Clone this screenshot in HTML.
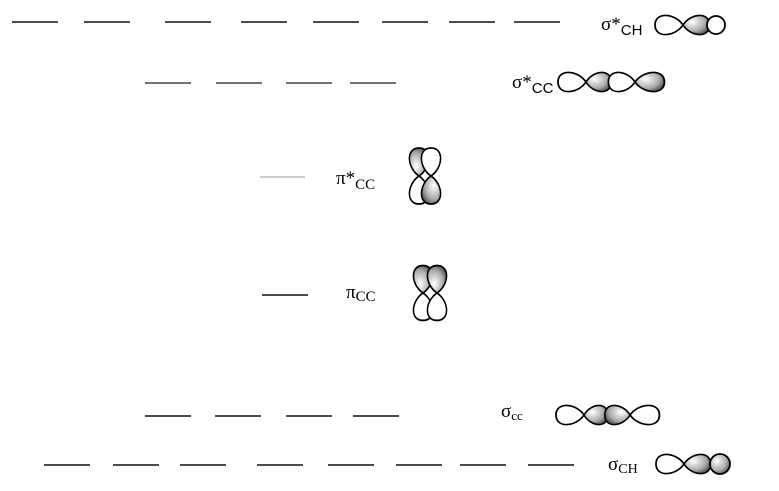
<!DOCTYPE html>
<html><head><meta charset="utf-8"><style>
html,body{margin:0;padding:0;background:#fff;width:779px;height:491px;overflow:hidden}
svg{display:block}
.t{font-family:"Liberation Serif",serif;font-size:19px}
.s{font-family:"Liberation Sans",sans-serif;font-size:15px}
</style></head><body>
<svg width="779" height="491" viewBox="0 0 779 491" xmlns="http://www.w3.org/2000/svg">
<defs>
<radialGradient id="g" cx="0.35" cy="0.35" r="0.8">
<stop offset="0" stop-color="#fff"/><stop offset="0.6" stop-color="#aaa"/><stop offset="1" stop-color="#333"/>
</radialGradient>
<path id="lobe" d="M0,0 C8,-14 28,-16 28,0 C28,16 8,14 0,0Z"/>
</defs>
<g stroke="#111" stroke-width="1.6">
<line x1="12" y1="22" x2="58" y2="22"/><line x1="84" y1="22" x2="130" y2="22"/><line x1="165" y1="22" x2="211" y2="22"/><line x1="241" y1="22" x2="287" y2="22"/><line x1="313" y1="22" x2="359" y2="22"/><line x1="382" y1="22" x2="428" y2="22"/><line x1="449" y1="22" x2="495" y2="22"/><line x1="514" y1="22" x2="560" y2="22"/>
</g>
<g stroke="#444" stroke-width="1.6">
<line x1="145" y1="83" x2="191" y2="83"/><line x1="216" y1="83" x2="262" y2="83"/><line x1="286" y1="83" x2="332" y2="83"/><line x1="350" y1="83" x2="396" y2="83"/>
</g>
<line x1="260" y1="177" x2="305" y2="177" stroke="#999" stroke-width="1"/>
<line x1="262" y1="295" x2="308" y2="295" stroke="#111" stroke-width="1.6"/>
<g stroke="#111" stroke-width="1.6">
<line x1="145" y1="416" x2="191" y2="416"/><line x1="215" y1="416" x2="261" y2="416"/><line x1="286" y1="416" x2="332" y2="416"/><line x1="353" y1="416" x2="399" y2="416"/>
<line x1="44" y1="465" x2="90" y2="465"/><line x1="113" y1="465" x2="159" y2="465"/><line x1="180" y1="465" x2="226" y2="465"/><line x1="257" y1="465" x2="303" y2="465"/><line x1="328" y1="465" x2="374" y2="465"/><line x1="396" y1="465" x2="442" y2="465"/><line x1="460" y1="465" x2="506" y2="465"/><line x1="528" y1="465" x2="574" y2="465"/>
</g>
<g stroke="#000" stroke-width="1.8">
<use href="#lobe" fill="#fff" transform="translate(683,25) scale(-1,0.85)"/>
<use href="#lobe" fill="url(#g)" transform="translate(683,25) scale(0.95,0.85)"/>
<circle cx="716" cy="25" r="9" fill="#fff"/>
<use href="#lobe" fill="#fff" transform="translate(586,82) scale(-1,0.85)"/>
<use href="#lobe" fill="url(#g)" transform="translate(586,82) scale(0.9,0.85)"/>
<use href="#lobe" fill="#fff" transform="translate(635,82) scale(-0.95,0.85)"/>
<use href="#lobe" fill="url(#g)" transform="translate(635,82) scale(1.05,0.85)"/>
<use href="#lobe" fill="url(#g)" transform="translate(419,176) rotate(-90) scale(1,0.85)"/>
<use href="#lobe" fill="#fff" transform="translate(419,176) rotate(90) scale(1,0.85)"/>
<use href="#lobe" fill="#fff" transform="translate(431,176) rotate(-90) scale(1,0.85)"/>
<use href="#lobe" fill="url(#g)" transform="translate(431,176) rotate(90) scale(1,0.85)"/>
<use href="#lobe" fill="#fff" transform="translate(423,293) rotate(90) scale(0.98,0.85)"/>
<use href="#lobe" fill="#fff" transform="translate(437,293) rotate(90) scale(0.98,0.85)"/>
<use href="#lobe" fill="url(#g)" transform="translate(423,293) rotate(-90) scale(0.98,0.85)"/>
<use href="#lobe" fill="url(#g)" transform="translate(437,293) rotate(-90) scale(0.98,0.85)"/>
<use href="#lobe" fill="#fff" transform="translate(584,415) scale(-1,0.85)"/>
<use href="#lobe" fill="#fff" transform="translate(630,415) scale(1.05,0.85)"/>
<use href="#lobe" fill="url(#g)" transform="translate(584,415) scale(0.85,0.85)"/>
<use href="#lobe" fill="url(#g)" transform="translate(630,415) scale(-0.9,0.85)"/>
<use href="#lobe" fill="#fff" transform="translate(684,464) scale(-1,0.85)"/>
<use href="#lobe" fill="url(#g)" transform="translate(684,464) scale(0.95,0.85)"/>
<circle cx="720" cy="464" r="10" fill="url(#g)"/>
</g>
<text x="601" y="30" class="t">σ*<tspan class="s" dy="5">CH</tspan></text>
<text x="512" y="88" class="t">σ*<tspan class="s" dy="5">CC</tspan></text>
<text x="336" y="184" class="t">π*<tspan dy="5" font-size="15">CC</tspan></text>
<text x="346" y="298" class="t">π<tspan dy="3" font-size="15">CC</tspan></text>
<text x="501" y="417" class="t">σ<tspan dy="3" font-size="13">cc</tspan></text>
<text x="608" y="470" class="t">σ<tspan dy="3" font-size="14">CH</tspan></text>
</svg>
</body></html>
